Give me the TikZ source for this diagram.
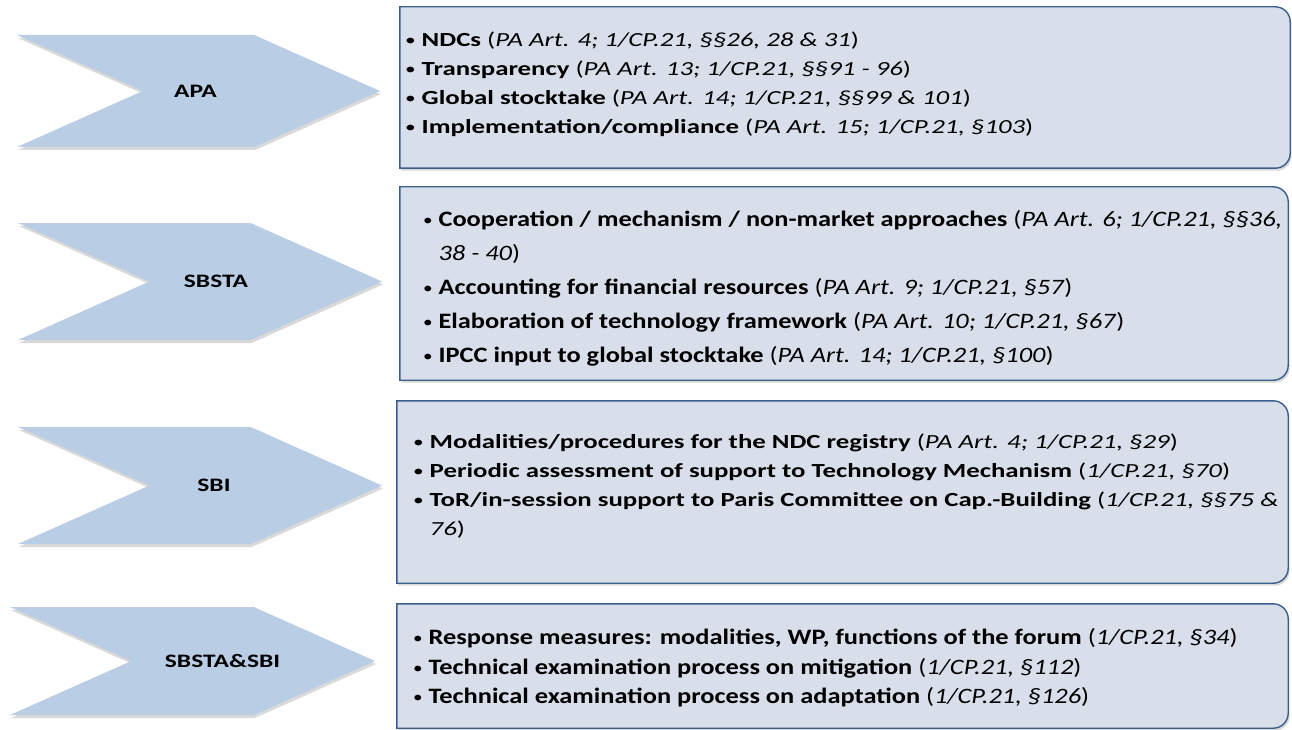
\documentclass[tikz,border=0pt]{standalone}
\usepackage{fontspec}
\setmainfont{Carlito}[FakeStretch=1.34]
\newfontfamily\narrowfont{Carlito}[FakeStretch=1.2]
\newcommand\blt{{\fontsize{16}{16}\selectfont\raisebox{1pt}{•}}}
\usetikzlibrary{shapes.symbols, positioning, shadows, backgrounds}
\definecolor{chevblue}{HTML}{B9CDE5}
\definecolor{boxfill}{HTML}{D8DFEA}
\definecolor{boxline}{HTML}{3B5E8C}

\begin{document}
\begin{tikzpicture}[x=1pt, y=-1pt,
  chev/.style={signal, signal to=east, signal from=west, signal pointer angle=48,
    fill=chevblue, inner sep=0pt,
    drop shadow={shadow xshift=1pt, shadow yshift=-3pt, opacity=0.3}},
  chevtext/.style={font=\bfseries\fontsize{19}{22}\selectfont, inner sep=0pt},
  slot/.style={inner sep=0pt},
  boxedge/.style={draw=boxline, line width=1.4pt, fill=boxfill,
    drop shadow={shadow xshift=1.5pt, shadow yshift=-2.5pt, opacity=0.3}},
  items/.style={anchor=west, align=left, inner sep=0pt, font=\fontsize{20}{29}\selectfont},
  narrow/.style={items, font=\narrowfont\fontsize{22}{#1}\selectfont},
]
  \useasboundingbox (0,0) rectangle (1292,730);

  % chevrons on the left
  \node[chev, minimum width=363pt, minimum height=112pt] (apa) at (198.5,91) {};
  \node[chev, minimum width=364pt, minimum height=117pt] (sbsta) at (200,281.5) {};
  \node[chev, minimum width=364pt, minimum height=117pt] (sbi) at (200,485.5) {};
  \node[chev, minimum width=365pt, minimum height=108pt] (both) at (192.5,661) {};
  \node[chevtext] (apa-t) at ([xshift=-3pt]apa.center) {APA};
  \node[chevtext] (sbsta-t) at ([xshift=16pt]sbsta.center) {SBSTA};
  \node[chevtext] (sbi-t) at ([xshift=14pt]sbi.center) {SBI};
  \node[chevtext] (both-t) at ([xshift=30pt]both.center) {SBSTA\&SBI};

  % item boxes, right corners rounded
  \node[slot, minimum width=890pt, minimum height=161pt] (b1) at (845,87.5) {};
  \node[slot, minimum width=888pt, minimum height=193pt] (b2) at (844,283.5) {};
  \node[slot, minimum width=891pt, minimum height=182pt] (b3) at (842.5,492) {};
  \node[slot, minimum width=891pt, minimum height=124pt] (b4) at (842.5,666) {};
  \foreach \b in {b1,b2,b3,b4} {
    \draw[boxedge] (\b.south west) -- (\b.north west) [rounded corners=15pt]
      -- (\b.north east) -- (\b.south east) [sharp corners] -- cycle;
  }

  % item lists
  \node[items] (l1) at ([xshift=5pt, yshift=3pt]b1.west) {%
    \blt\ \textbf{NDCs} (\textit{PA Art. 4; 1/CP.21, §§26, 28 \& 31})\\
    \blt\ \textbf{Transparency} (\textit{PA Art. 13; 1/CP.21, §§91 - 96})\\
    \blt\ \textbf{Global stocktake} (\textit{PA Art. 14; 1/CP.21, §§99 \& 101})\\
    \blt\ \textbf{Implementation/compliance} (\textit{PA Art. 15; 1/CP.21, §103})};
  \node[narrow=34] (l2) at ([xshift=23pt, yshift=-4.5pt]b2.west) {%
    \blt\ \textbf{Cooperation / mechanism / non-market approaches} (\textit{PA Art. 6; 1/CP.21, §§36,}\\
    \phantom{\blt\ }\textit{38 - 40})\\
    \blt\ \textbf{Accounting for financial\ resources} (\textit{PA Art. 9; 1/CP.21, §57})\\
    \blt\ \textbf{Elaboration of technology framework} (\textit{PA Art. 10; 1/CP.21, §67})\\
    \blt\ \textbf{IPCC input to global stocktake} (\textit{PA Art. 14; 1/CP.21, §100})};
  \node[items] (l3) at ([xshift=16pt, yshift=6pt]b3.west) {%
    \blt\ \textbf{Modalities/procedures for the NDC registry} (\textit{PA Art. 4; 1/CP.21, §29})\\
    \blt\ \textbf{Periodic assessment of support to Technology Mechanism} (\textit{1/CP.21, §70})\\
    \blt\ \textbf{ToR/in-session support to Paris Committee on Cap.-Building} (\textit{1/CP.21, §§75 \&}\\
    \phantom{\blt\ }\textit{76})};
  \node[narrow=29.5] (l4) at ([xshift=16pt, yshift=-2pt]b4.west) {%
    \blt\ \textbf{Response measures: modalities, WP, functions of the forum} (\textit{1/CP.21, §34})\\
    \blt\ \textbf{Technical examination process on mitigation} (\textit{1/CP.21, §112})\\
    \blt\ \textbf{Technical examination process on adaptation} (\textit{1/CP.21, §126})};
\end{tikzpicture}
\end{document}
